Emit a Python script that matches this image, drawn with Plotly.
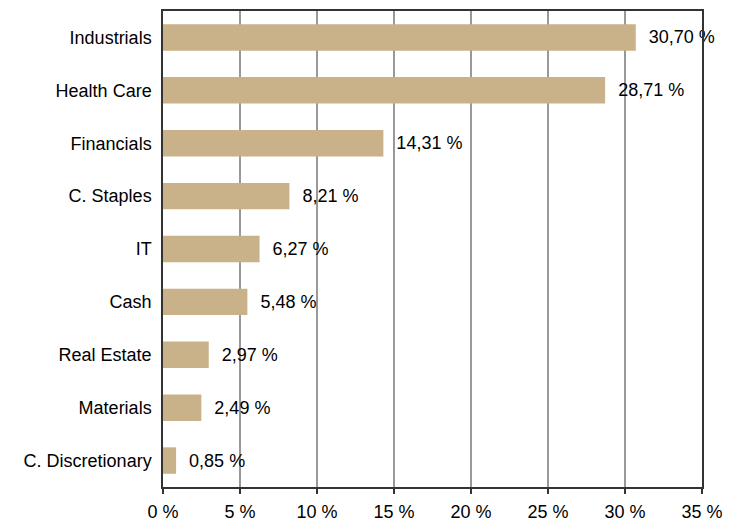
import plotly.graph_objects as go

categories = ["Industrials", "Health Care", "Financials", "C. Staples", "IT", "Cash",
              "Real Estate", "Materials", "C. Discretionary"]
values = [30.70, 28.71, 14.31, 8.21, 6.27, 5.48, 2.97, 2.49, 0.85]
tick_vals = [0, 5, 10, 15, 20, 25, 30, 35]
tick_text = ["0 %", "5 %", "10 %", "15 %", "20 %", "25 %", "30 %", "35 %"]

labels = ["  " + f"{v:.2f}".replace(".", ",") + " %" for v in values]

FONT = "Liberation Sans, Arial"

fig = go.Figure(go.Bar(
    x=values, y=categories, orientation="h",
    marker=dict(color="#C9B18A", line=dict(width=0)),
    text=labels, textposition="outside", cliponaxis=False,
    textfont=dict(family=FONT, size=18, color="#000"),
    width=0.5,
))

# page body adds ~8px offset; margins compensate
fig.update_layout(
    width=732, height=522,
    margin=dict(l=155, r=38, t=3, b=43, autoexpand=False),
    paper_bgcolor="white", plot_bgcolor="white",
    font=dict(family=FONT, size=18, color="#000"),
    showlegend=False,
)
fig.update_xaxes(
    range=[0, 35], tickvals=tick_vals, ticktext=tick_text,
    showgrid=True, gridcolor="#999999", gridwidth=1.5,
    showline=True, linecolor="#333333", linewidth=1.5, mirror=True,
    ticks="outside", ticklen=5, tickcolor="#333333", tickwidth=1.5,
    zeroline=False, automargin=False, ticklabelstandoff=3,
)
fig.update_yaxes(
    autorange="reversed",
    showline=True, linecolor="#333333", linewidth=1.5, mirror=True,
    ticks="", ticklabelstandoff=6, showgrid=False, automargin=False,
)

fig.write_html("out.html")
